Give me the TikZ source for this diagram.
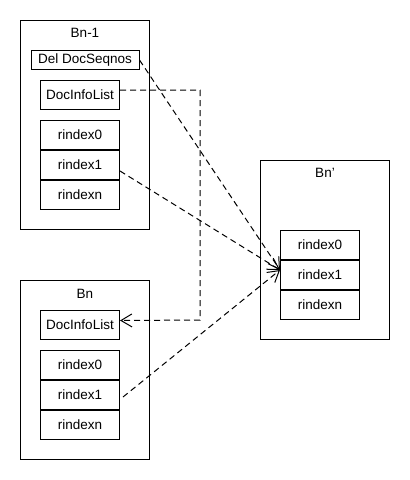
\documentclass[tikz,border=0pt]{standalone}
\usepackage{fontspec}
\setmainfont{Liberation Sans}
\usetikzlibrary{arrows.meta}
\begin{document}
\begin{tikzpicture}[x=1pt,y=-1pt,line width=1pt,
  font=\fontsize{13.5pt}{16pt}\selectfont,
  outerbox/.style={draw,minimum width=129pt,inner sep=0pt},
  cellbox/.style={draw,minimum width=79pt,minimum height=29pt,inner sep=0pt},
  title/.style={inner sep=0pt},
  link/.style={draw,dash pattern=on 6pt off 4pt,-{Straight Barb[length=11pt,width=13pt]}}]
\useasboundingbox (0,0) rectangle (410,480);
% Bn-1
\node[outerbox,minimum height=209pt] (b1) at (85,125) {};
\node[title] (t1) at (85,33) {Bn-1};
\node[draw,minimum width=108pt,minimum height=18.5pt,inner sep=0pt] (del) at (85,60) {Del DocSeqnos};
\node[cellbox] (d1) at (80,94.5) {DocInfoList};
\node[cellbox] (a0) at (80,135) {rindex0};
\node[cellbox] (a1) at (80,165) {rindex1};
\node[cellbox] (an) at (80,195) {rindexn};
% Bn
\node[outerbox,minimum height=179pt] (b2) at (85,370) {};
\node[title] (t2) at (85,294) {Bn};
\node[cellbox] (d2) at (80,325) {DocInfoList};
\node[cellbox] (c0) at (80,365) {rindex0};
\node[cellbox] (c1) at (80,395) {rindex1};
\node[cellbox] (cn) at (80,425) {rindexn};
% Bn'
\node[outerbox,minimum height=179pt] (b3) at (325,250) {};
\node[title] (t3) at (325,173) {Bn\symbol{39}};
\node[cellbox] (e0) at (320,245) {rindex0};
\node[cellbox] (e1) at (320,275) {rindex1};
\node[cellbox] (en) at (320,305) {rindexn};
% connectors
\coordinate (tgt) at ([yshift=5pt]e1.west);
\coordinate (d1s) at ([yshift=4.5pt]d1.east);
\coordinate (d2e) at ([yshift=4.5pt]d2.east);
\coordinate (k1) at (200,90);
\coordinate (k2) at (200,320);
\path[link] (del.east) -- (tgt);
\path[link] ([yshift=-6pt]a1.east) -- (tgt);
\path[link] ([xshift=3pt,yshift=-2pt]c1.east) -- (tgt);
\path[link] (d1s) -- (k1) -- (k2) -- (d2e);
\end{tikzpicture}
\end{document}
